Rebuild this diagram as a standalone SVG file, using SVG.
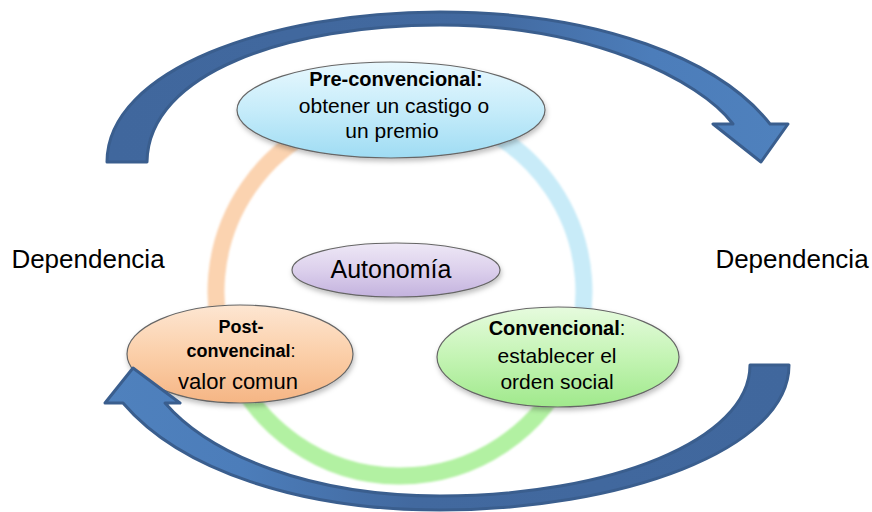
<svg xmlns="http://www.w3.org/2000/svg" width="872" height="512" viewBox="0 0 872 512">
<defs>
  <linearGradient id="gBlue" x1="0" y1="0" x2="0" y2="1"><stop offset="0" stop-color="#e8f8fe"/><stop offset="0.5" stop-color="#c6ecfa"/><stop offset="1" stop-color="#9fdcf3"/></linearGradient>
  <linearGradient id="gOrange" x1="0" y1="0" x2="0" y2="1"><stop offset="0" stop-color="#fde6d2"/><stop offset="0.5" stop-color="#fbcfa9"/><stop offset="1" stop-color="#f5b584"/></linearGradient>
  <linearGradient id="gGreen" x1="0" y1="0" x2="0" y2="1"><stop offset="0" stop-color="#e6fbde"/><stop offset="0.5" stop-color="#c4f4b4"/><stop offset="1" stop-color="#a0e98c"/></linearGradient>
  <linearGradient id="gPurple" x1="0" y1="0" x2="0" y2="1"><stop offset="0" stop-color="#eee8f6"/><stop offset="0.5" stop-color="#dcd0ec"/><stop offset="1" stop-color="#c3b2de"/></linearGradient>
  <linearGradient id="gArrowTop" x1="0" y1="0" x2="1" y2="0"><stop offset="0" stop-color="#40679d"/><stop offset="0.55" stop-color="#42699f"/><stop offset="0.8" stop-color="#4c7dba"/><stop offset="1" stop-color="#4f81bd"/></linearGradient>
  <linearGradient id="gArrowBot" x1="1" y1="0" x2="0" y2="0"><stop offset="0" stop-color="#40679d"/><stop offset="0.55" stop-color="#42699f"/><stop offset="0.8" stop-color="#4c7dba"/><stop offset="1" stop-color="#4f81bd"/></linearGradient>
  <filter id="shadow" x="-20%" y="-20%" width="140%" height="150%"><feDropShadow dx="1" dy="3" stdDeviation="2.5" flood-color="#000" flood-opacity="0.25"/></filter>
  <filter id="soft" x="-10%" y="-10%" width="120%" height="120%"><feGaussianBlur stdDeviation="1.2"/></filter>
</defs>
<style>
  .node { stroke:#666; stroke-width:1.2; filter:url(#shadow); }
  .ring { fill:none; stroke-width:17; filter:url(#soft); }
  .arrow { stroke:#3a5e8e; stroke-width:3; stroke-linejoin:round; }
  text { font-family:"Liberation Sans", Arial, sans-serif; fill:#000; text-anchor:middle; }
  .b { font-weight:bold; }
  .side { font-size:26px; }
</style>
<g id="ring">
  <path class="ring" stroke="#fbd3b0" d="M400 108 A184 184 0 0 0 228.2 357.9"/>
  <path class="ring" stroke="#c8ebf8" d="M400 108 A184 184 0 0 1 570.6 360.9"/>
  <path class="ring" stroke="#b2f1a2" d="M228.2 357.9 A184 184 0 0 0 570.6 360.9"/>
</g>
<g id="node-pre">
  <ellipse class="node" cx="391" cy="110" rx="154" ry="48" fill="url(#gBlue)"/>
  <text x="396" y="86" font-size="20" class="b">Pre-convencional:</text>
  <text x="394" y="113" font-size="21">obtener un castigo o</text>
  <text x="392" y="138" font-size="21">un premio</text>
</g>
<g id="node-post">
  <ellipse class="node" cx="240" cy="354" rx="113" ry="49" fill="url(#gOrange)"/>
  <text x="241" y="333" font-size="18" class="b">Post-</text>
  <text x="241" y="357" font-size="18"><tspan class="b">convencinal</tspan>:</text>
  <text x="238" y="389" font-size="22">valor comun</text>
</g>
<g id="node-conv">
  <ellipse class="node" cx="558" cy="357" rx="121" ry="50" fill="url(#gGreen)"/>
  <text x="557" y="335" font-size="20"><tspan class="b">Convencional</tspan>:</text>
  <text x="557" y="363" font-size="21">establecer el</text>
  <text x="557" y="389" font-size="21">orden social</text>
</g>
<g id="node-auto">
  <ellipse class="node" cx="396" cy="270" rx="104" ry="27" fill="url(#gPurple)"/>
  <text x="391" y="278" font-size="25">Autonomía</text>
</g>
<g id="label-left"><text class="side" x="88" y="268">Dependencia</text></g>
<g id="label-right"><text class="side" x="792" y="268">Dependencia</text></g>
<g id="connectors">
  <path class="arrow" fill="url(#gArrowTop)" d="M107 162 C107 70 270 12 440 12 C600 12 720 60 770 124 L788 124 L761 162 L713 124 L733 124 C700 80 590 25 440 25 C290 25 148 72 147 162 Z"/>
  <path class="arrow" fill="url(#gArrowBot)" d="M750 365 L789 365 C789 450 620 510 440 510 C300 510 180 470 123 403 L105 403 L133 368 L180 403 L165 403 C210 455 310 496 440 496 C610 496 750 440 750 365 Z"/>
</g>
</svg>
